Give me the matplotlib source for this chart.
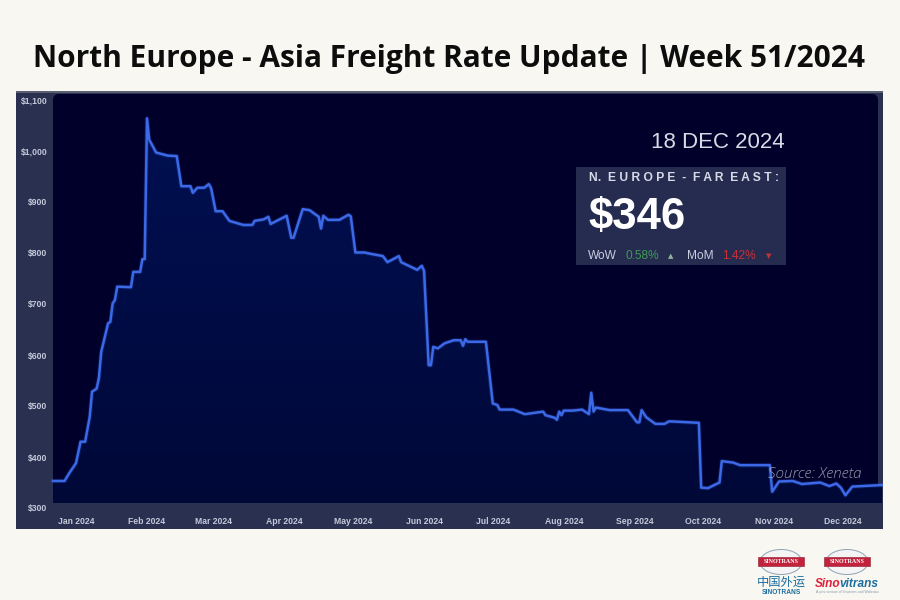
import numpy as np
import pandas as pd
import matplotlib
matplotlib.use('Agg')
import matplotlib.pyplot as plt
import matplotlib.dates as mdates
from matplotlib.patches import FancyBboxPatch, Rectangle, Ellipse, Polygon
from matplotlib.colors import LinearSegmentedColormap

# rates
dates = ['2023-12-22','2023-12-27','2023-12-29','2024-01-01','2024-01-03','2024-01-05','2024-01-07','2024-01-08',
         '2024-01-10','2024-01-11','2024-01-12','2024-01-15','2024-01-16','2024-01-17','2024-01-18','2024-01-19',
         '2024-01-25','2024-01-26','2024-01-29','2024-01-30','2024-01-31','2024-02-01','2024-02-02','2024-02-05',
         '2024-02-10','2024-02-14','2024-02-16','2024-02-20','2024-02-21','2024-02-23','2024-02-26','2024-02-28',
         '2024-02-29','2024-03-02','2024-03-05','2024-03-08','2024-03-14','2024-03-18','2024-03-19','2024-03-23',
         '2024-03-25','2024-03-26','2024-04-02','2024-04-04','2024-04-05','2024-04-09','2024-04-12','2024-04-16',
         '2024-04-17','2024-04-18','2024-04-20','2024-04-25','2024-04-29','2024-04-30','2024-05-02','2024-05-06',
         '2024-05-08','2024-05-14','2024-05-16','2024-05-21','2024-05-22','2024-05-29','2024-05-31','2024-06-01',
         '2024-06-03','2024-06-04','2024-06-05','2024-06-07','2024-06-10','2024-06-14','2024-06-17','2024-06-18',
         '2024-06-19','2024-06-20','2024-06-28','2024-07-01','2024-07-03','2024-07-04','2024-07-10','2024-07-15',
         '2024-07-23','2024-07-24','2024-07-28','2024-07-29','2024-07-30','2024-07-31','2024-08-01','2024-08-05',
         '2024-08-09','2024-08-12','2024-08-13','2024-08-14','2024-08-15','2024-08-21','2024-08-29','2024-09-02',
         '2024-09-03','2024-09-04','2024-09-06','2024-09-10','2024-09-14','2024-09-16','2024-09-29','2024-09-30',
         '2024-10-03','2024-10-08','2024-10-09','2024-10-14','2024-10-17','2024-10-30','2024-10-31','2024-11-03',
         '2024-11-09','2024-11-13','2024-11-21','2024-11-25','2024-11-28','2024-11-30','2024-12-02','2024-12-05',
         '2024-12-18']
rates = [353,353,368,388,430,430,479,528,
         534,555,606,662,665,701,708,734,
         733,763,763,788,788,1064,1022,997,
         991,990,931,931,918,928,928,935,
         927,882,882,863,855,855,863,866,
         871,857,873,830,830,886,884,871,
         848,873,865,865,875,872,801,801,
         799,794,782,794,782,767,775,765,
         580,580,616,613,623,629,629,618,
         631,626,626,505,502,493,493,484,
         489,482,477,473,489,482,491,491,
         493,484,526,489,497,492,492,468,
         468,492,478,465,465,470,467,340,
         339,350,392,389,384,384,332,352,
         353,347,350,343,348,340,325,342,
         345]

month_ticks = ['2024-%02d-01' % m for m in range(1, 13)]
month_labels = ['Jan 2024','Feb 2024','Mar 2024','Apr 2024','May 2024','Jun 2024',
                'Jul 2024','Aug 2024','Sep 2024','Oct 2024','Nov 2024','Dec 2024']
rate_ticks = [300,400,500,600,700,800,900,1000,1100]
rate_labels = ['$300','$400','$500','$600','$700','$800','$900','$1,000','$1,100']

W, H = 900, 600
BG = '#f8f7f2'
PANEL = '#2a3050'
INNER = '#00002a'

fig = plt.figure(figsize=(9, 6), dpi=100, facecolor=BG)

# back layer in pixels: the frame of the screenshot
back = fig.add_axes([0, 0, 1, 1], zorder=0)
back.set_xlim(0, W)
back.set_ylim(H, 0)
back.axis('off')
back.add_patch(Rectangle((16, 92), 867, 437, fc=PANEL, ec='none'))
back.add_patch(Rectangle((16, 91), 867, 2, fc='#5a5f72', ec='none'))
back.add_patch(FancyBboxPatch((57, 98), 817, 401, boxstyle='round,pad=4,rounding_size=6', fc=INNER, ec='none'))

# chart axes cover the frame, the tick labels sit inside it
ax = fig.add_axes([16/W, 1-529/H, 867/W, 437/H], zorder=1)
ax.patch.set_alpha(0)
x = mdates.date2num(pd.to_datetime(dates))
y = np.array(rates, dtype=float)
jan1 = mdates.date2num(pd.Timestamp('2024-01-01'))
px_day = 2.29
floor = 300 + (508-503)/0.51

# gradient under the line
cmap = LinearSegmentedColormap.from_list('fill', ['#000838', '#001052'])
grad = np.linspace(0, 1, 256).reshape(-1, 1)
im = ax.imshow(grad, extent=[x[0], x[-1], floor, y.max()], origin='lower', aspect='auto', cmap=cmap, zorder=1)
ax.set_xlim(jan1 + (16-76)/px_day, jan1 + (883-76)/px_day)
ax.set_ylim(300 + (508-529)/0.51, 300 + (508-92)/0.51)
poly = Polygon(np.column_stack([np.r_[x[0], x, x[-1]], np.r_[floor, y, floor]]), transform=ax.transData, fc='none', ec='none')
ax.add_patch(poly)
im.set_clip_path(poly)

ax.plot(x, y, color='#2f5be0', lw=3.2, alpha=0.22, zorder=2, solid_joinstyle='round')
ax.plot(x, y, color='#3c69e6', lw=1.8, zorder=3, solid_joinstyle='round')

for s in ax.spines.values():
    s.set_visible(False)
ax.set_xticks(mdates.date2num(pd.to_datetime(month_ticks)))
ax.set_xticklabels(month_labels, family='Liberation Sans', fontsize=6.2, fontweight='bold', color='#c4c9da')
ax.set_yticks(rate_ticks)
ax.set_yticklabels(rate_labels, family='Liberation Sans', fontsize=6.2, fontweight='bold', color='#c4c9da')
ax.tick_params(axis='x', length=0, pad=-8.6)
ax.tick_params(axis='y', length=0, pad=-22.5)

# top layer in pixels: title, value card, source, logos
top = fig.add_axes([0, 0, 1, 1], zorder=2)
top.set_xlim(0, W)
top.set_ylim(H, 0)
top.axis('off')
top.patch.set_alpha(0)

top.text(449, 59.5, 'North Europe - Asia Freight Rate Update | Week 51/2024', family='Open Sans',
         fontweight='bold', fontsize=21.5, color='#0d0d0d', ha='center', va='center')
top.text(785, 142, '18 DEC 2024', family='Liberation Sans', fontsize=16, color='#d8dbe6', ha='right', va='center')

top.add_patch(Rectangle((576, 167), 210, 98, fc='#252c50', ec='none'))
top.text(589, 178, 'N.  E U R O P E  -  F A R  E A S T :', family='Liberation Sans', fontweight='bold', fontsize=8.7,
         color='#d8dbe6', va='center')
top.text(588, 217, '$346', family='Liberation Sans', fontweight='bold', fontsize=31.5, color='white', va='center')
top.text(588, 256, 'WoW', family='Liberation Sans', fontsize=8.6, color='#c9cde0', va='center')
top.text(625, 256, '0.58%', family='Liberation Sans', fontsize=8.6, color='#3f9a55', va='center')
top.text(671, 256, '▲', family='DejaVu Sans', fontsize=5, color='#8fb5a0', ha='center', va='center')
top.text(687, 256, 'MoM', family='Liberation Sans', fontsize=8.6, color='#c9cde0', va='center')
top.text(722, 256, '1.42%', family='Liberation Sans', fontsize=8.6, color='#c8313a', va='center')
top.text(769, 256, '▼', family='DejaVu Sans', fontsize=5, color='#c8313a', ha='center', va='center')

top.text(862, 474, 'Source: Xeneta', family='Open Sans', style='italic', fontweight='light', fontsize=11,
         color='#c4c7d0', alpha=0.75, ha='right', va='center')

# logos, two small globes with a red band
for cx, cy in [(781, 562), (847, 562)]:
    top.add_patch(Ellipse((cx, cy), 42, 25, fc='#f4f4f4', ec='#8ea3b5', lw=0.7))
    top.add_patch(Rectangle((cx-23, cy-5), 46, 9, fc='#c2223c', ec='#8c1a2e', lw=0.4))
    top.text(cx, cy-0.5, 'SINOTRANS', family='Liberation Serif', fontweight='bold', fontsize=4.3, color='white',
             ha='center', va='center')
top.text(781, 582, '中国外运', family='Noto Sans CJK SC', fontsize=8.8, color='#1d6f9e', ha='center', va='center')
top.text(781, 592.5, 'SINOTRANS', family='Liberation Sans', fontweight='bold', fontsize=4.8, color='#1d6f9e',
         ha='center', va='center')
top.text(815, 584, 'Sino', family='Liberation Sans', fontweight='bold', style='italic', fontsize=8.6, color='#e0203a', va='center')
top.text(839, 584, 'vitrans', family='Liberation Sans', fontweight='bold', style='italic', fontsize=8.6, color='#1d6f9e', va='center')
top.text(847, 592.5, 'A joint venture of Sinotrans and Wallenius', family='Liberation Sans', fontsize=2.4, color='#8a9aa6',
         ha='center', va='center')

fig.savefig('out.png', dpi=100, facecolor=BG)
